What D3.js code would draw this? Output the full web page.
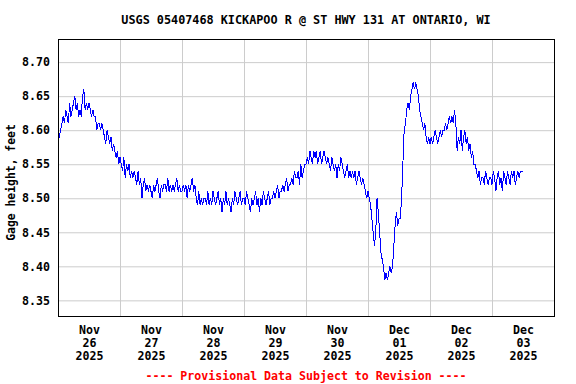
<!DOCTYPE html>
<html>
<head>
<meta charset="utf-8">
<script src="https://cdn.jsdelivr.net/npm/d3@7"></script>
<style>
  body { margin: 0; background: #fff; }
  svg { display: block; }
  text { font-family: "DejaVu Sans Mono", "Liberation Mono", monospace; font-weight: bold; }
</style>
</head>
<body>
<div id="chart"></div>
<script>
// gage height, feet, every 30 min from Nov 26 2025 00:00
const stage = [
  // Nov 26
  8.59, 8.59, 8.60, 8.61, 8.62, 8.61, 8.63, 8.62, 8.61, 8.64, 8.62, 8.63,
  8.64, 8.65, 8.63, 8.64, 8.62, 8.63, 8.62, 8.65, 8.66, 8.63, 8.64, 8.63,
  8.64, 8.63, 8.62, 8.63, 8.62, 8.62, 8.60, 8.61, 8.61, 8.60, 8.61, 8.60,
  8.59, 8.58, 8.60, 8.59, 8.58, 8.59, 8.57, 8.58, 8.57, 8.56, 8.57, 8.55,
  // Nov 27
  8.56, 8.55, 8.54, 8.56, 8.53, 8.55, 8.54, 8.55, 8.53, 8.54, 8.53, 8.54,
  8.53, 8.52, 8.54, 8.52, 8.53, 8.50, 8.52, 8.53, 8.51, 8.52, 8.51, 8.52,
  8.51, 8.50, 8.52, 8.51, 8.52, 8.53, 8.51, 8.50, 8.52, 8.51, 8.52, 8.52,
  8.51, 8.53, 8.51, 8.52, 8.51, 8.52, 8.51, 8.52, 8.53, 8.51, 8.52, 8.51,
  // Nov 28
  8.51, 8.52, 8.51, 8.52, 8.50, 8.52, 8.51, 8.52, 8.53, 8.51, 8.52, 8.50,
  8.49, 8.51, 8.49, 8.50, 8.49, 8.50, 8.50, 8.49, 8.51, 8.49, 8.50, 8.49,
  8.51, 8.50, 8.49, 8.50, 8.51, 8.49, 8.50, 8.48, 8.50, 8.49, 8.51, 8.49,
  8.50, 8.49, 8.48, 8.50, 8.49, 8.51, 8.50, 8.49, 8.50, 8.51, 8.49, 8.50,
  // Nov 29
  8.50, 8.49, 8.51, 8.50, 8.49, 8.48, 8.50, 8.49, 8.50, 8.51, 8.49, 8.50,
  8.48, 8.50, 8.49, 8.51, 8.50, 8.49, 8.50, 8.51, 8.49, 8.50, 8.50, 8.51,
  8.50, 8.51, 8.52, 8.50, 8.51, 8.51, 8.52, 8.51, 8.52, 8.53, 8.51, 8.52,
  8.52, 8.53, 8.52, 8.54, 8.53, 8.53, 8.54, 8.52, 8.55, 8.53, 8.54, 8.55,
  // Nov 30
  8.55, 8.56, 8.55, 8.57, 8.56, 8.55, 8.57, 8.56, 8.57, 8.55, 8.56, 8.57,
  8.55, 8.56, 8.57, 8.56, 8.55, 8.56, 8.55, 8.54, 8.56, 8.55, 8.54, 8.55,
  8.53, 8.55, 8.54, 8.56, 8.55, 8.54, 8.53, 8.54, 8.55, 8.53, 8.54, 8.53,
  8.54, 8.53, 8.54, 8.52, 8.53, 8.54, 8.53, 8.52, 8.53, 8.52, 8.51, 8.50,
  // Dec 01
  8.51, 8.50, 8.49, 8.47, 8.45, 8.43, 8.45, 8.50, 8.48, 8.45, 8.42, 8.41,
  8.40, 8.38, 8.39, 8.38, 8.39, 8.40, 8.39, 8.40, 8.43, 8.46, 8.48, 8.46,
  8.47, 8.47, 8.50, 8.55, 8.60, 8.61, 8.63, 8.64, 8.63, 8.65, 8.66, 8.67,
  8.66, 8.67, 8.66, 8.65, 8.63, 8.62, 8.61, 8.60, 8.61, 8.59, 8.58, 8.59,
  // Dec 02
  8.58, 8.59, 8.58, 8.59, 8.60, 8.59, 8.58, 8.59, 8.60, 8.59, 8.60, 8.60,
  8.61, 8.60, 8.61, 8.62, 8.61, 8.62, 8.61, 8.63, 8.61, 8.57, 8.59, 8.58,
  8.60, 8.57, 8.59, 8.60, 8.58, 8.59, 8.57, 8.58, 8.56, 8.57, 8.55, 8.55,
  8.54, 8.53, 8.54, 8.52, 8.53, 8.53, 8.52, 8.54, 8.53, 8.52, 8.53, 8.53,
  // Dec 03
  8.52, 8.54, 8.53, 8.51, 8.53, 8.54, 8.52, 8.53, 8.51, 8.54, 8.53, 8.52,
  8.54, 8.53, 8.52, 8.54, 8.53, 8.54, 8.52, 8.53, 8.54, 8.53, 8.54, 8.54,
  8.54
];
const startTime = new Date(2025, 10, 26, 0, 0);
const stepMinutes = 30;

const dayMonths = ['Nov', 'Nov', 'Nov', 'Nov', 'Nov', 'Dec', 'Dec', 'Dec'];
const dayNumbers = ['26', '27', '28', '29', '30', '01', '02', '03'];
const dayYears = ['2025', '2025', '2025', '2025', '2025', '2025', '2025', '2025'];
const yTicks = [8.35, 8.40, 8.45, 8.50, 8.55, 8.60, 8.65, 8.70];

const title = 'USGS 05407468 KICKAPOO R @ ST HWY 131 AT ONTARIO, WI';
const yTitle = 'Gage height, feet';
const footer = '---- Provisional Data Subject to Revision ----';

// config
const width = 576, height = 384;
const margin = { left: 58, top: 39, right: 22, bottom: 68 };
const plotW = width - margin.left - margin.right;   // 496
const plotH = height - margin.top - margin.bottom;  // 277

const days = dayNumbers.map((d, i) => d3.timeDay.offset(startTime, i));
const x = d3.scaleTime()
  .domain([startTime, d3.timeDay.offset(startTime, days.length)])
  .range([0, plotW]);
const y = d3.scaleLinear()
  .domain([8.327, 8.734])
  .range([plotH, 0]);

const points = stage.map((v, i) => ({
  t: d3.timeMinute.offset(startTime, i * stepMinutes),
  v
}));

const svg = d3.select('#chart')
  .append('svg')
  .attr('width', width)
  .attr('height', height);

const g = svg.append('g')
  .attr('transform', `translate(${margin.left},${margin.top})`);

// horizontal grid + y labels
const yAxis = g.append('g')
  .call(d3.axisLeft(y)
    .tickValues(yTicks)
    .tickFormat(d3.format('.2f'))
    .tickSize(-plotW)
    .tickPadding(8));
yAxis.select('.domain').remove();
yAxis.selectAll('line').attr('stroke', '#cccccc');
yAxis.selectAll('text')
  .attr('font-size', 11.6)
  .attr('fill', '#000');

// vertical grid at midnight
const xGrid = g.append('g')
  .attr('transform', `translate(0,${plotH})`)
  .call(d3.axisBottom(x)
    .tickValues(days.slice(1))
    .tickSize(-plotH)
    .tickFormat(''));
xGrid.select('.domain').remove();
xGrid.selectAll('line').attr('stroke', '#cccccc');

// day labels at noon
const noons = days.map(d => d3.timeHour.offset(d, 12));
const xAxis = g.append('g')
  .attr('transform', `translate(0,${plotH})`)
  .call(d3.axisBottom(x).tickValues(noons).tickSize(0).tickFormat(''));
xAxis.select('.domain').remove();
xAxis.selectAll('.tick text')
  .attr('y', 0)
  .attr('dy', null)
  .attr('font-size', 11.6)
  .attr('fill', '#000')
  .each(function (d, i) {
    const t = d3.select(this);
    [dayMonths[i], dayNumbers[i], dayYears[i]].forEach((s, k) => {
      t.append('tspan').attr('x', 0).attr('y', 18 + k * 13).text(s);
    });
  });

// data line
g.append('path')
  .datum(points)
  .attr('fill', 'none')
  .attr('stroke', '#0000ff')
  .attr('stroke-width', 1)
  .attr('shape-rendering', 'crispEdges')
  .attr('d', d3.line().x(d => x(d.t)).y(d => y(d.v)));

// frame
g.append('rect')
  .attr('x', 0.5)
  .attr('y', 0.5)
  .attr('width', plotW)
  .attr('height', plotH)
  .attr('fill', 'none')
  .attr('stroke', '#000')
  .attr('stroke-width', 1);

// titles
svg.append('text')
  .attr('x', margin.left + plotW / 2)
  .attr('y', 24)
  .attr('text-anchor', 'middle')
  .attr('font-size', 11.8)
  .text(title);

svg.append('text')
  .attr('transform', `translate(15,${margin.top + plotH / 2 + 5}) rotate(-90)`)
  .attr('text-anchor', 'middle')
  .attr('font-size', 11.4)
  .text(yTitle);

svg.append('text')
  .attr('x', margin.left + plotW / 2)
  .attr('y', 380)
  .attr('text-anchor', 'middle')
  .attr('font-size', 11.6)
  .attr('fill', '#ff0000')
  .text(footer);
</script>
</body>
</html>
